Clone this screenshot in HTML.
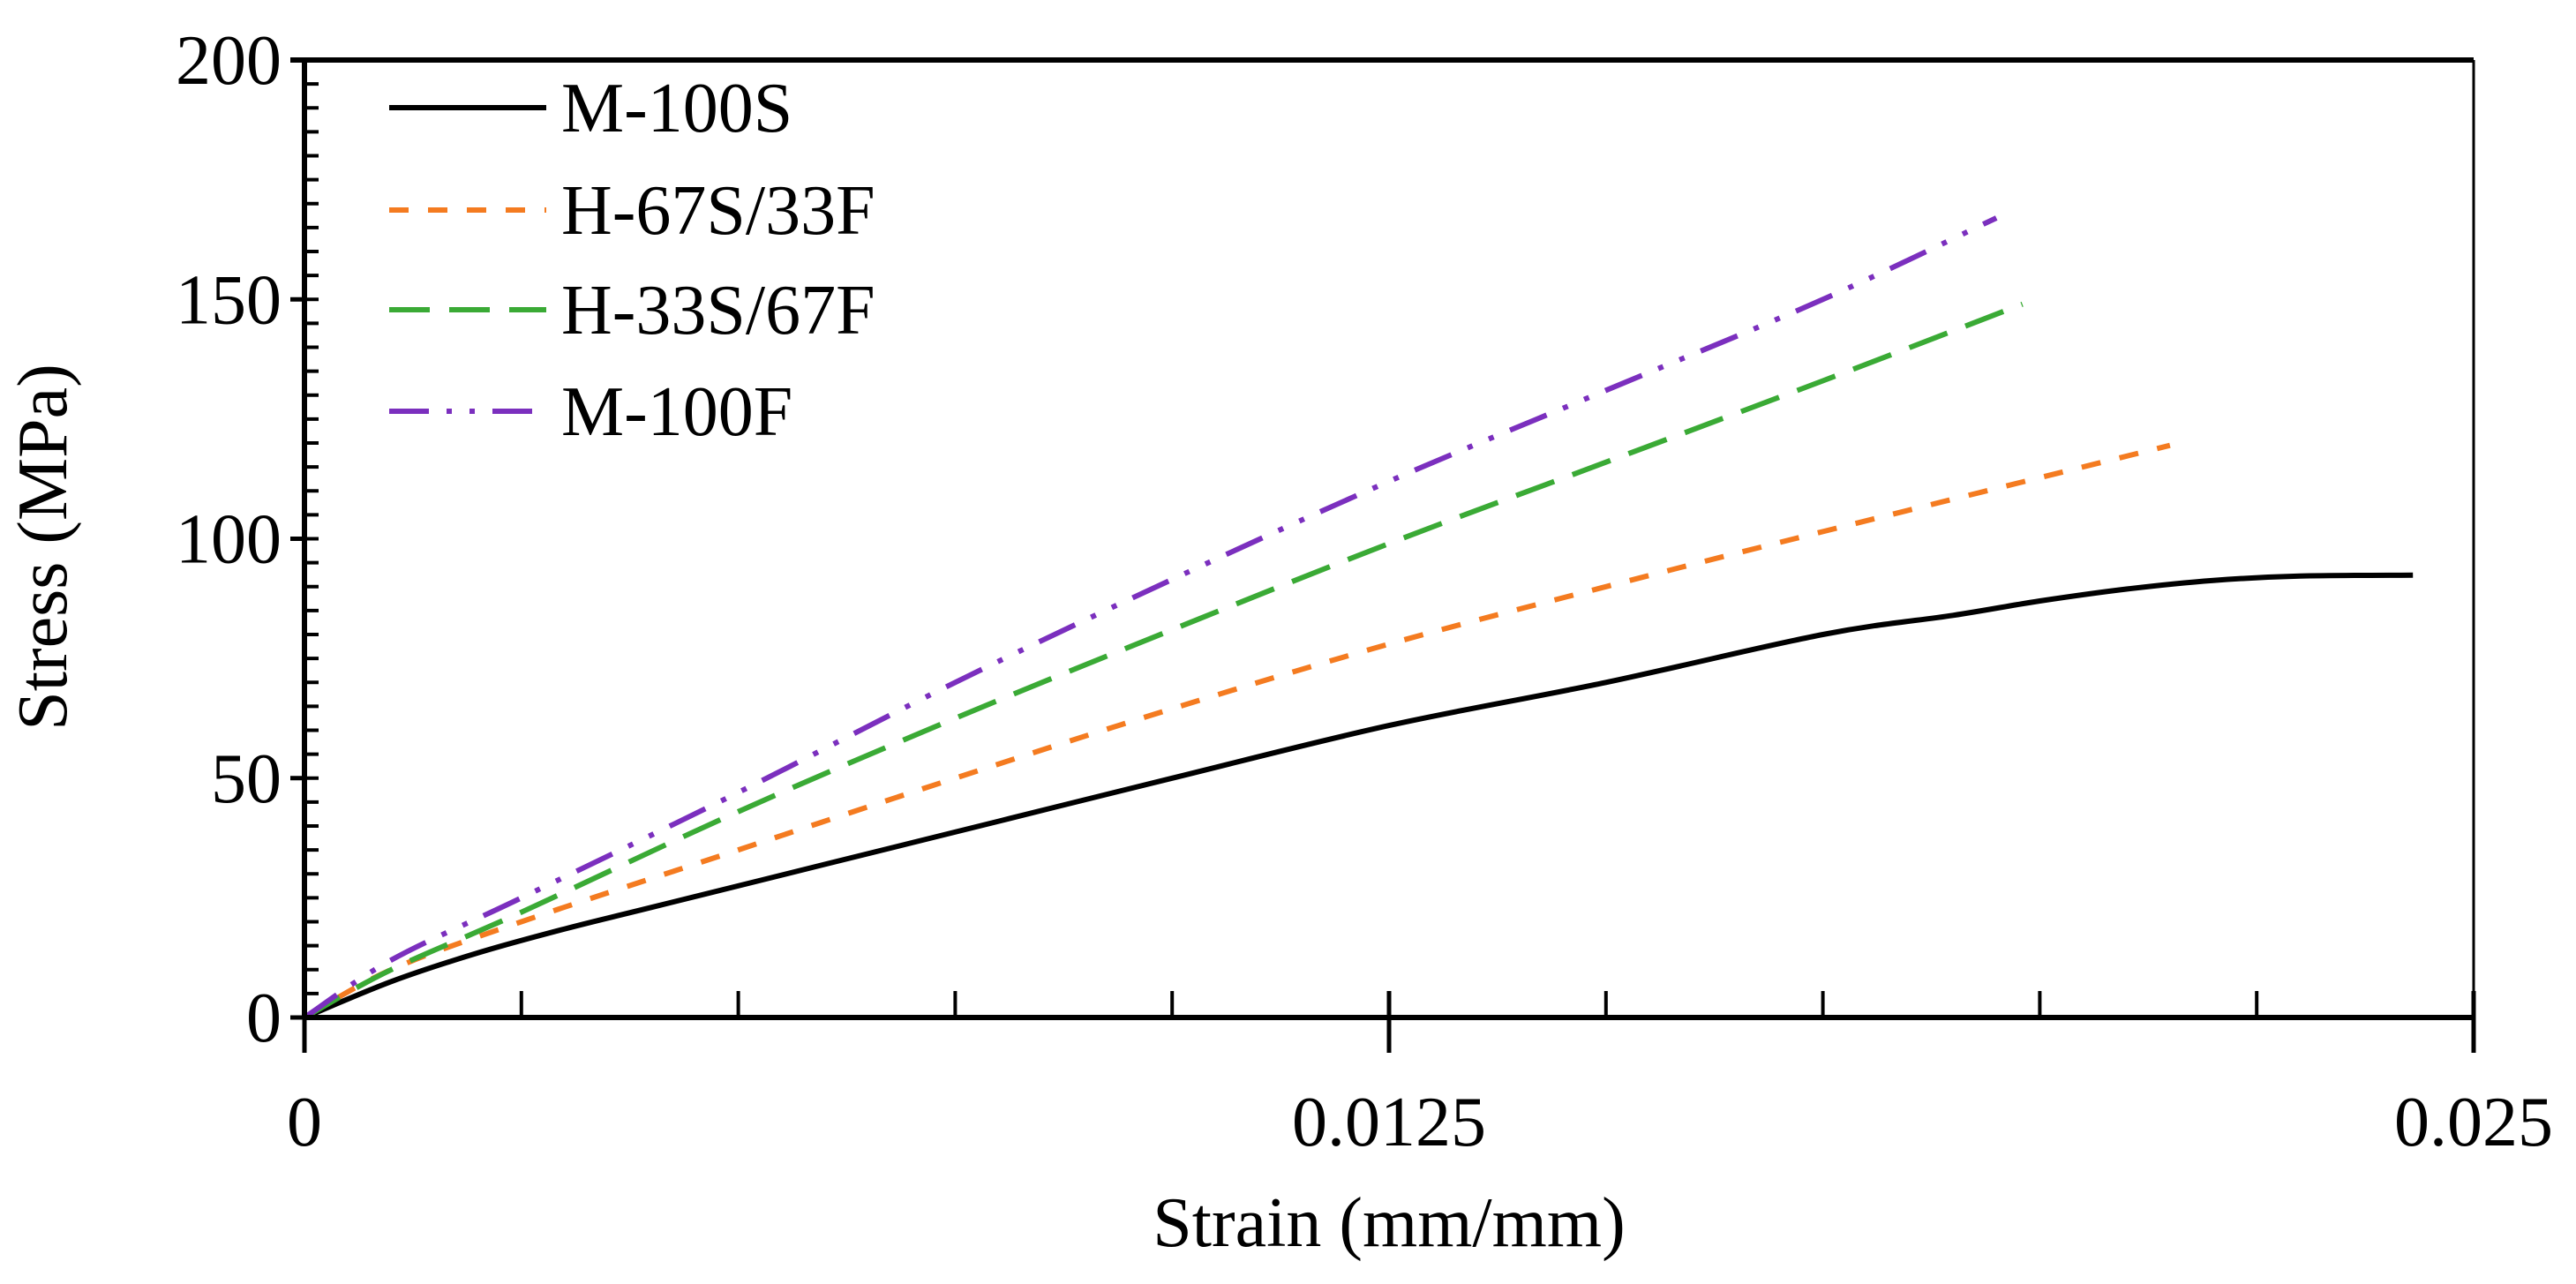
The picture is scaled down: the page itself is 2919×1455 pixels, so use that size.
<!DOCTYPE html>
<html><head><meta charset="utf-8"><style>
html,body{margin:0;padding:0;background:#fff}
svg{display:block}
text{font-family:"Liberation Serif",serif;fill:#000}
</style></head><body>
<svg id="chart" width="2919" height="1455" viewBox="0 0 2919 1455" xmlns="http://www.w3.org/2000/svg">
<g id="marks"></g>
<g id="axes"></g>
<g id="legend"></g>
<text x="1574" y="1412" font-size="80" text-anchor="middle">Strain (mm/mm)</text>
<text x="0" y="0" font-size="80" text-anchor="middle" transform="translate(75,620) rotate(-90)">Stress (MPa)</text>
</svg>
<script>
const seriesNames = ["M-100S","H-67S/33F","H-33S/67F","M-100F"];
const seriesColors = ["#000000","#f47b20","#3aaa35","#7b2fbe"];
const seriesDash = ["","22 22","46 22","45 20 6 20 6 20"];
const strainM100S = [0,0.001,0.002,0.003,0.004,0.006,0.008,0.010,0.0125,0.015,0.0175,0.019,0.020,0.021,0.022,0.023,0.0243];
const stressM100S = [0,7.5,13.5,18.5,23,32,41,50,61,70,80,84,87,89.5,91.3,92.2,92.4];
const strainH67 = [0,0.001,0.0025,0.005,0.0075,0.010,0.0125,0.015,0.0175,0.0215];
const stressH67 = [0,10,20,35,50,64.5,78,90,101.5,119.5];
const strainH33 = [0,0.001,0.0025,0.005,0.0075,0.010,0.0125,0.015,0.0175,0.0198];
const stressH33 = [0,10,22,43,62.5,81,99,116,133,149];
const strainM100F = [0,0.001,0.0025,0.005,0.0075,0.010,0.0125,0.015,0.0175,0.0195];
const stressM100F = [0,12,25,47,70,91.5,112,131,150,167];
const xTicks = [0,0.0125,0.025];
const xTickLabels = ["0","0.0125","0.025"];
const yTicks = [0,50,100,150,200];
const yTickLabels = ["0","50","100","150","200"];

const L=345,R=2803,T=68,B=1153;
const xs=v=>L+(v/0.025)*(R-L);
const ys=v=>B-(v/200)*(B-T);
const NS="http://www.w3.org/2000/svg";
function mk(tag,attrs,parent){const e=document.createElementNS(NS,tag);for(const k in attrs)e.setAttribute(k,attrs[k]);parent.appendChild(e);return e;}
function smoothPath(p){
  let d="M"+p[0][0].toFixed(1)+","+p[0][1].toFixed(1);
  for(let i=0;i<p.length-1;i++){
    const p0=p[Math.max(0,i-1)],p1=p[i],p2=p[i+1],p3=p[Math.min(p.length-1,i+2)];
    const c1x=p1[0]+(p2[0]-p0[0])/6,c1y=p1[1]+(p2[1]-p0[1])/6;
    const c2x=p2[0]-(p3[0]-p1[0])/6,c2y=p2[1]-(p3[1]-p1[1])/6;
    d+=" C"+c1x.toFixed(1)+","+c1y.toFixed(1)+" "+c2x.toFixed(1)+","+c2y.toFixed(1)+" "+p2[0].toFixed(1)+","+p2[1].toFixed(1);
  }
  return d;
}
const marks=document.getElementById('marks'),axes=document.getElementById('axes'),legend=document.getElementById('legend');
const data=[[strainM100S,stressM100S],[strainH67,stressH67],[strainH33,stressH33],[strainM100F,stressM100F]];
const keys=["m-100s","h-67s-33f","h-33s-67f","m-100f"];
data.forEach((d,i)=>{
  const pts=d[0].map((x,j)=>[xs(x),ys(d[1][j])]);
  const p=mk('path',{d:smoothPath(pts),fill:"none",stroke:seriesColors[i],"stroke-width":6,"stroke-dasharray":seriesDash[i],"stroke-linejoin":"round"},marks);
  
  
});
let a=mk('line',{x1:L,y1:B,x2:R,y2:B,stroke:"#000","stroke-width":6},axes);


a=mk('line',{x1:L,y1:T,x2:L,y2:B,stroke:"#000","stroke-width":6},axes);


a=mk('line',{x1:L-16,y1:T,x2:R,y2:T,stroke:"#000","stroke-width":6},axes);


a=mk('line',{x1:R,y1:T,x2:R,y2:B,stroke:"#000","stroke-width":3},axes);


for(let i=0;i<=10;i++){const x=xs(i*0.0025);const t=mk('line',{x1:x,y1:B,x2:x,y2:B-30,stroke:"#000","stroke-width":4},axes);

}
for(let i=1;i<40;i++){const y=ys(i*5);const t=mk('line',{x1:L,y1:y,x2:L+16,y2:y,stroke:"#000","stroke-width":4},axes);

}
xTicks.forEach((v,i)=>{
  const t=mk('line',{x1:xs(v),y1:B-30,x2:xs(v),y2:B+40,stroke:"#000","stroke-width":5},axes);
  
  
  const lb=mk('text',{x:xs(v),y:B+145,"font-size":80,"text-anchor":"middle"},axes);
  lb.textContent=xTickLabels[i];
  
  
});
yTicks.forEach((v,i)=>{
  const t=mk('line',{x1:L-16,y1:ys(v),x2:L,y2:ys(v),stroke:"#000","stroke-width":5},axes);
  
  
  const lb=mk('text',{x:L-26,y:ys(v)+27,"font-size":80,"text-anchor":"end"},axes);
  lb.textContent=yTickLabels[i];
  
  
});
const legY=[122,238,351,466];
seriesNames.forEach((n,i)=>{
  const g=mk('g',{},legend);
  
  
  mk('line',{x1:441,y1:legY[i],x2:619,y2:legY[i],stroke:seriesColors[i],"stroke-width":6,"stroke-dasharray":seriesDash[i]},g);
  const t=mk('text',{x:636,y:legY[i]+27,"font-size":80},g);
  t.textContent=n;
});
</script>
</body></html>
